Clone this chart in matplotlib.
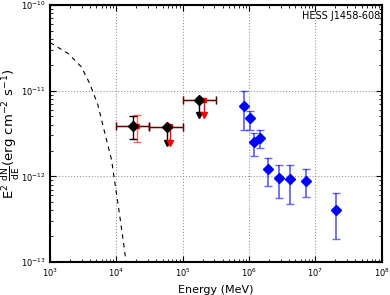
import matplotlib
matplotlib.use("Agg")
import matplotlib.pyplot as plt
import numpy as np

# Fermi-LAT points, analysis A (black diamonds)
lat_e = [10**4.25, 10**4.757, 10**5.244]
lat_elo = [1e4, 10**4.5, 1e5]
lat_ehi = [10**4.5, 1e5, 10**5.5]
lat_f = [3.9e-12, 3.8e-12, 7.8e-12]
lat_fhi = [5.1e-12, 0, 0]
lat_flo = [2.73e-12, 2.43e-12, 5.2e-12]
lat_ul = [False, True, True]

# Fermi-LAT points, analysis B (red squares)
lat2_e = [10**4.315, 10**4.807, 10**5.319]
lat2_f = [3.9e-12, 3.9e-12, 7.8e-12]
lat2_fhi = [5.2e-12, 0, 0]
lat2_flo = [2.5e-12, 2.43e-12, 5.2e-12]
lat2_ul = [False, True, True]

# HESS points (blue)
hess_e = [8.3e5, 1.02e6, 1.19e6, 1.47e6, 1.94e6, 2.81e6, 4.16e6, 7.17e6, 2.07e7]
hess_f = [6.68e-12, 4.8e-12, 2.49e-12, 2.83e-12, 1.21e-12, 9.5e-13, 9.2e-13, 8.9e-13, 4.05e-13]
hess_fhi = [1.0e-11, 5.85e-12, 3.23e-12, 3.5e-12, 1.63e-12, 1.35e-12, 1.35e-12, 1.23e-12, 6.34e-13]
hess_flo = [3.47e-12, 3.5e-12, 1.74e-12, 2.12e-12, 7.8e-13, 5.55e-13, 4.72e-13, 5.69e-13, 1.84e-13]

# dashed model curve (log10 E, log10 flux)
curve_loge = [3.0, 3.02, 3.271, 3.471, 3.598, 3.723, 3.753, 3.828, 3.929, 3.979, 4.054, 4.13, 4.16]
curve_logf = [-10.44, -10.447, -10.564, -10.72, -10.914, -11.167, -11.264, -11.498, -11.809, -12.08, -12.471, -12.898, -13.1]

plt.rcParams['font.family'] = 'DejaVu Sans'
plt.rcParams['mathtext.fontset'] = 'dejavusans'

fig = plt.figure(figsize=(3.9, 2.95), dpi=100)
ax = fig.add_axes([0.128, 0.112, 0.851, 0.871])

ax.plot(10**np.array(curve_loge), 10**np.array(curve_logf), 'k--', lw=0.8, dashes=(4, 4))

lat_e = np.array(lat_e)
lat_f = np.array(lat_f)
for i in range(len(lat_e)):
    xe = [[lat_e[i] - lat_elo[i]], [lat_ehi[i] - lat_e[i]]]
    ax.errorbar(lat_e[i], lat_f[i], xerr=xe, fmt='none', ecolor='k', elinewidth=1, capsize=3)
    ax.errorbar(lat_e[i], lat_f[i], xerr=xe, fmt='none', ecolor='r', elinewidth=1, capsize=3, alpha=0.4)
    if lat_ul[i]:
        ax.plot([lat_e[i], lat_e[i]], [lat_f[i], lat_flo[i]], 'k-', lw=1)
        ax.plot(lat_e[i], lat_flo[i], 'kv', ms=5)
    else:
        ye = [[lat_f[i] - lat_flo[i]], [lat_fhi[i] - lat_f[i]]]
        ax.errorbar(lat_e[i], lat_f[i], yerr=ye, fmt='none', ecolor='k', elinewidth=1, capsize=3)
for i in range(len(lat2_e)):
    if lat2_ul[i]:
        ax.plot([lat2_e[i], lat2_e[i]], [lat2_f[i], lat2_flo[i]], 'r-', lw=1)
        ax.plot(lat2_e[i], lat2_flo[i], 'rv', ms=5)
    else:
        ye = [[lat2_f[i] - lat2_flo[i]], [lat2_fhi[i] - lat2_f[i]]]
        ax.errorbar(lat2_e[i], lat2_f[i], yerr=ye, fmt='none', ecolor='r', elinewidth=1, capsize=3, alpha=0.6)
ax.plot(lat2_e, lat2_f, 'rs', ms=3.5, mec='r')
ax.plot(lat_e, lat_f, 'kD', ms=5)

hess_e = np.array(hess_e)
hess_f = np.array(hess_f)
yerr = [hess_f - np.array(hess_flo), np.array(hess_fhi) - hess_f]
ax.errorbar(hess_e, hess_f, yerr=yerr, fmt='none', ecolor='b', elinewidth=1.3, capsize=3, alpha=0.6)
ax.plot(hess_e, hess_f, 'bD', ms=5)

ax.set_xscale('log')
ax.set_yscale('log')
ax.set_xlim(1e3, 1e8)
ax.set_ylim(1e-13, 1e-10)
ax.grid(True, which='major', ls=':', color='0.6', lw=0.8)
ax.tick_params(which='both', direction='in', top=True, right=True, labelsize=6)
ax.tick_params(which='major', length=4, pad=3)
ax.tick_params(which='minor', length=2)
for s in ax.spines.values():
    s.set_linewidth(1.5)

ax.set_xlabel('Energy (MeV)', fontsize=8)
ax.xaxis.set_label_coords(0.5, -0.09)
ax.set_ylabel(r'E$^2$ $\frac{\rm dN}{\rm dE}$(erg cm$^{-2}$ s$^{-1}$)', fontsize=9.5)
ax.yaxis.set_label_coords(-0.083, 0.5)
ax.text(0.995, 0.975, 'HESS J1458-608', transform=ax.transAxes, ha='right', va='top', fontsize=7)

fig.savefig('out.png', dpi=100)
